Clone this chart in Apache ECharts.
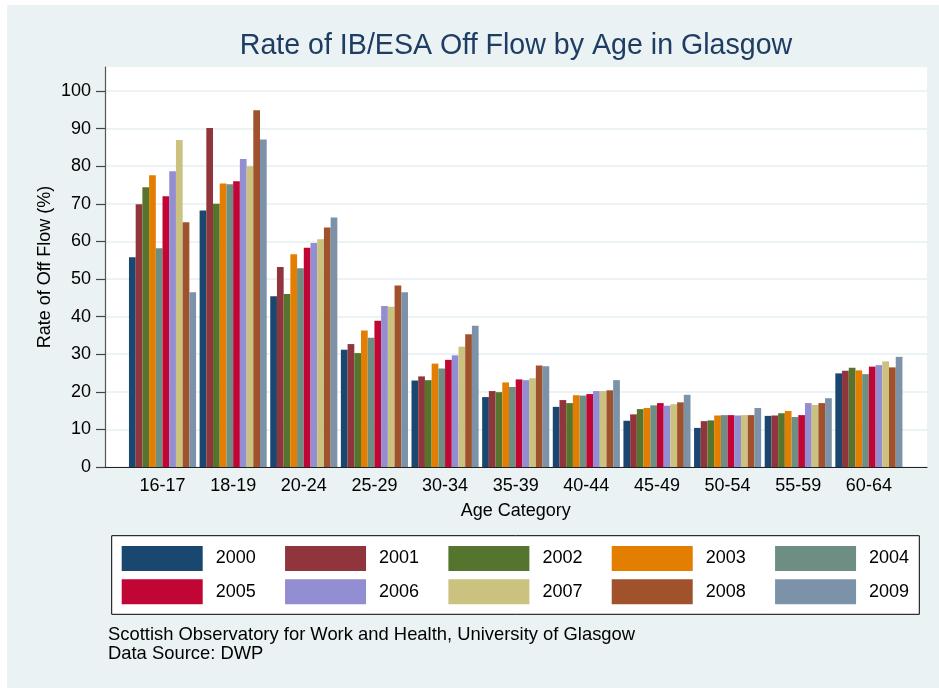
<!DOCTYPE html>
<html>
<head>
<meta charset="utf-8">
<title>Rate of IB/ESA Off Flow by Age in Glasgow</title>
<script src="https://cdn.jsdelivr.net/npm/echarts@6/dist/echarts.min.js"></script>
<style>
  html, body { margin: 0; padding: 0; background: #ffffff; }
  #main { position: absolute; left: 7px; top: 5px; width: 932px; height: 683px; }
</style>
</head>
<body>
<div id="main"></div>
<script>
// categories and tick labels
const ageGroups = ["16-17", "18-19", "20-24", "25-29", "30-34", "35-39", "40-44", "45-49", "50-54", "55-59", "60-64"];
const years = ["2000", "2001", "2002", "2003", "2004", "2005", "2006", "2007", "2008", "2009"];
const yTicks = [0, 10, 20, 30, 40, 50, 60, 70, 80, 90, 100];

// rate of off flow (%) per year, one value per age group
const v2000 = [55.8, 68.2, 45.4, 31.2, 23.0, 18.6, 16.0, 12.3, 10.4, 13.6, 24.9];
const v2001 = [69.9, 90.2, 53.2, 32.7, 24.1, 20.2, 17.8, 14.0, 12.2, 13.7, 25.6];
const v2002 = [74.4, 70.0, 46.0, 30.3, 23.1, 19.9, 17.0, 15.4, 12.4, 14.3, 26.4];
const v2003 = [77.6, 75.4, 56.6, 36.3, 27.5, 22.5, 19.1, 15.7, 13.7, 14.9, 25.7];
const v2004 = [58.2, 75.2, 52.9, 34.4, 26.2, 21.3, 19.0, 16.4, 13.8, 13.3, 24.7];
const v2005 = [72.0, 76.0, 58.3, 38.9, 28.5, 23.3, 19.4, 17.0, 13.8, 13.8, 26.7];
const v2006 = [78.7, 81.9, 59.6, 42.8, 29.7, 23.1, 20.2, 16.3, 13.7, 17.0, 27.1];
const v2007 = [87.0, 80.0, 60.6, 42.6, 32.0, 23.6, 20.2, 16.7, 13.8, 16.5, 28.1];
const v2008 = [65.1, 94.9, 63.7, 48.3, 35.3, 27.0, 20.4, 17.2, 13.8, 17.0, 26.5];
const v2009 = [46.5, 87.1, 66.4, 46.5, 37.6, 26.8, 23.1, 19.2, 15.7, 18.3, 29.3];

const values = [v2000, v2001, v2002, v2003, v2004, v2005, v2006, v2007, v2008, v2009];
const colors = ["#1a476f", "#90353b", "#55752f", "#e37e00", "#6e8e84",
                "#c10534", "#938dd2", "#cac27e", "#a0522d", "#7b92a8"];

const yMax = 106.4;
const bg = "#eaf2f3";
const font = "'Liberation Sans', Arial, sans-serif";

const myChart = echarts.init(document.getElementById("main"));

const series = years.map(function (y, i) {
  return {
    name: y,
    type: "bar",
    xAxisIndex: 1,
    yAxisIndex: 1,
    data: values[i],
    barGap: "0%",
    barCategoryGap: "5%",
    itemStyle: { color: colors[i] },
    emphasis: { disabled: true },
  };
});

function legendRow(top, names) {
  return {
    top: top,
    left: 114.7,
    orient: "horizontal",
    itemWidth: 81,
    itemHeight: 25,
    itemGap: 29.3,
    padding: 0,
    icon: "rect",
    selectedMode: false,
    data: names,
    textStyle: { color: "#000", fontSize: 18, fontFamily: font, padding: [0, 0, 0, 8] },
  };
}

const option = {
  backgroundColor: bg,
  animation: false,
  textStyle: { fontFamily: font },
  title: {
    text: "Rate of IB/ESA Off Flow by Age in Glasgow",
    left: 509,
    top: 41.5,
    padding: 0,
    textAlign: "center",
    textVerticalAlign: "middle",
    textStyle: { color: "#1f3d63", fontSize: 28.6, fontWeight: "normal", fontFamily: font },
  },
  legend: [legendRow(541, years.slice(0, 5)), legendRow(574.3, years.slice(5))],
  grid: [
    // plot region with white background and axes
    { left: 98, top: 62, width: 822, height: 400, show: true, backgroundColor: "#ffffff", borderWidth: 0 },
    // inner region holding the bar groups
    { left: 120.2, top: 62, width: 777, height: 400 },
  ],
  xAxis: [
    {
      type: "value",
      gridIndex: 0,
      min: 0,
      max: 1,
      axisLine: { show: true, lineStyle: { color: "#222", width: 1.2 } },
      axisTick: { show: false },
      axisLabel: { show: false },
      splitLine: { show: false },
    },
    {
      type: "category",
      gridIndex: 1,
      data: ageGroups,
      axisLine: { show: false },
      axisTick: { show: false },
      axisLabel: { color: "#000", fontSize: 18, margin: 10 },
      name: "Age Category",
      nameLocation: "middle",
      nameGap: 35,
      nameMoveOverlap: false,
      nameTextStyle: { color: "#000", fontSize: 18 },
    },
  ],
  yAxis: [
    {
      type: "value",
      gridIndex: 0,
      min: 0,
      max: yMax,
      axisLine: { show: true, lineStyle: { color: "#555", width: 1.2 } },
      axisTick: { show: true, length: 9, customValues: yTicks, lineStyle: { color: "#444", width: 1.2 } },
      axisLabel: { color: "#000", fontSize: 18, margin: 14, customValues: yTicks },
      splitLine: { show: true, lineStyle: { color: "#e6eff1", width: 1.5 } },
      name: "Rate of Off Flow (%)",
      nameLocation: "middle",
      nameGap: 51,
      nameMoveOverlap: false,
      nameTextStyle: { color: "#000", fontSize: 18 },
    },
    {
      type: "value",
      gridIndex: 1,
      min: 0,
      max: yMax,
      show: false,
    },
  ],
  graphic: [
    {
      // legend frame
      type: "rect",
      z: 1,
      shape: { x: 104.7, y: 530.7, width: 807.6, height: 78.6 },
      style: { fill: "#ffffff", stroke: "#000", lineWidth: 1 },
    },
    {
      type: "text",
      z: 1,
      x: 101,
      y: 620,
      style: {
        text: "Scottish Observatory for Work and Health, University of Glasgow\nData Source: DWP",
        font: "18.4px " + font,
        lineHeight: 19,
        fill: "#000",
      },
    },
  ],
  series: series,
};

myChart.setOption(option);
</script>
</body>
</html>
